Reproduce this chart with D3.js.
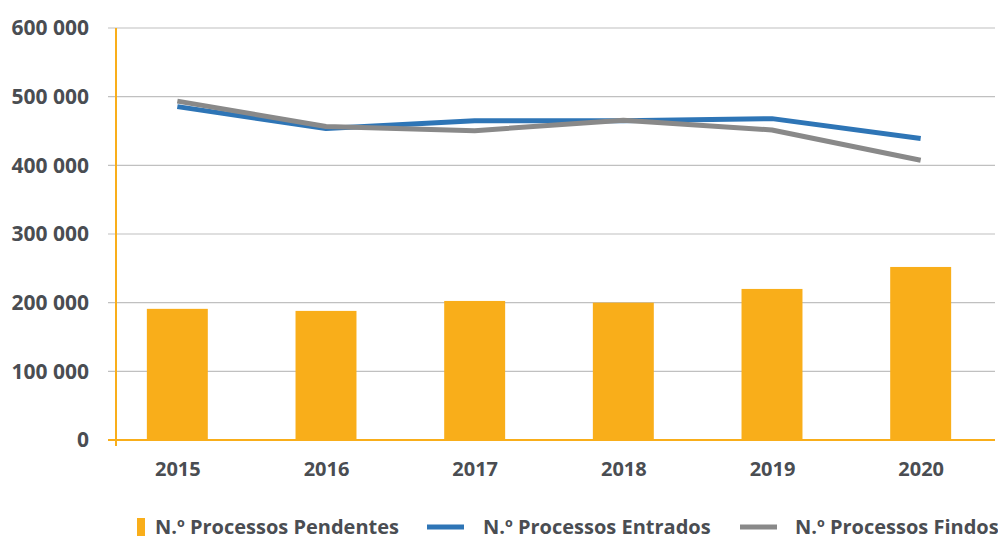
<!DOCTYPE html>
<html lang="pt">
<head>
  <meta charset="UTF-8" />
  <script src="https://d3js.org/d3.v7.min.js"></script>
  <style>
    body { margin: 0; background: #fff; }
    text { font-family: "Open Sans", Lato, sans-serif; font-weight: 700; fill: #4a4d52; }
  </style>
  <title>Processos</title>
</head>
<body>
  <div id="chart"></div>
  <script>
    const years = ["2015", "2016", "2017", "2018", "2019", "2020"];
    const pendentes = [191000, 188000, 202500, 200000, 220000, 252000];
    const entrados = [485500, 453500, 465000, 465000, 468000, 439000];
    const findos = [493500, 456500, 450500, 465500, 451500, 407500];
    const yTicks = [0, 100000, 200000, 300000, 400000, 500000, 600000];

    const width = 998, height = 539;
    const orange = "#f9ae1a", blue = "#2e75b6", grey = "#898989";

    const svg = d3.select("#chart")
      .append("svg")
      .attr("width", width)
      .attr("height", height);

    const x = d3.scalePoint()
      .domain(years)
      .range([103, 995])
      .padding(0.5);
    const barW = x.step() * 0.41;

    const y = d3.scaleLinear()
      .domain([0, 600000])
      .range([440, 28]);

    const fmt = d => d3.format(",")(d).replace(/,/g, " ");

    // gridlines
    svg.append("g")
      .selectAll("line")
      .data(yTicks.filter(d => d > 0))
      .enter()
      .append("line")
      .attr("x1", 108)
      .attr("x2", 995)
      .attr("y1", d => y(d))
      .attr("y2", d => y(d))
      .attr("stroke", "#c0c0c0")
      .attr("stroke-width", 1.2);

    // y axis labels
    const yAxis = svg.append("g")
      .attr("transform", "translate(116,0)")
      .call(d3.axisLeft(y).tickValues(yTicks).tickFormat(fmt).tickSize(0).tickPadding(27));
    yAxis.select(".domain").remove();
    yAxis.selectAll("text").attr("font-size", "21px");

    // bars
    svg.selectAll("rect.bar")
      .data(years)
      .enter()
      .append("rect")
      .attr("class", "bar")
      .attr("x", d => x(d) - barW / 2)
      .attr("width", barW)
      .attr("y", (d, i) => y(pendentes[i]))
      .attr("height", (d, i) => y(0) - y(pendentes[i]))
      .attr("fill", orange);

    // axes lines
    svg.append("line")
      .attr("x1", 108).attr("x2", 995)
      .attr("y1", y(0)).attr("y2", y(0))
      .attr("stroke", orange).attr("stroke-width", 2);
    svg.append("line")
      .attr("x1", 116).attr("x2", 116)
      .attr("y1", y(600000)).attr("y2", 446)
      .attr("stroke", orange).attr("stroke-width", 2);

    // x axis labels
    const xAxis = svg.append("g")
      .attr("transform", `translate(0,${y(0)})`)
      .call(d3.axisBottom(x).tickSize(0).tickPadding(22));
    xAxis.select(".domain").remove();
    xAxis.selectAll("text").attr("font-size", "20px");
    svg.selectAll(".tick text").attr("font-family", null).attr("fill", null);

    // lines
    const line = d3.line()
      .x((d, i) => x(years[i]))
      .y(d => y(d));

    svg.append("path")
      .datum(entrados)
      .attr("fill", "none")
      .attr("stroke", blue)
      .attr("stroke-width", 5)
      .attr("stroke-linejoin", "round")
      .attr("d", line);

    svg.append("path")
      .datum(findos)
      .attr("fill", "none")
      .attr("stroke", grey)
      .attr("stroke-width", 5)
      .attr("stroke-linejoin", "round")
      .attr("d", line);

    // legend
    const legend = svg.append("g");
    legend.append("rect")
      .attr("x", 137).attr("y", 518)
      .attr("width", 8).attr("height", 18)
      .attr("fill", orange);
    legend.append("text")
      .attr("x", 155).attr("y", 534)
      .attr("font-size", "20px")
      .text("N.º Processos Pendentes");

    legend.append("line")
      .attr("x1", 427).attr("x2", 464)
      .attr("y1", 527).attr("y2", 527)
      .attr("stroke", blue).attr("stroke-width", 5);
    legend.append("text")
      .attr("x", 483).attr("y", 534)
      .attr("font-size", "20px")
      .text("N.º Processos Entrados");

    legend.append("line")
      .attr("x1", 740).attr("x2", 777)
      .attr("y1", 527).attr("y2", 527)
      .attr("stroke", grey).attr("stroke-width", 5);
    legend.append("text")
      .attr("x", 795).attr("y", 534)
      .attr("font-size", "20px")
      .text("N.º Processos Findos");
  </script>
</body>
</html>
